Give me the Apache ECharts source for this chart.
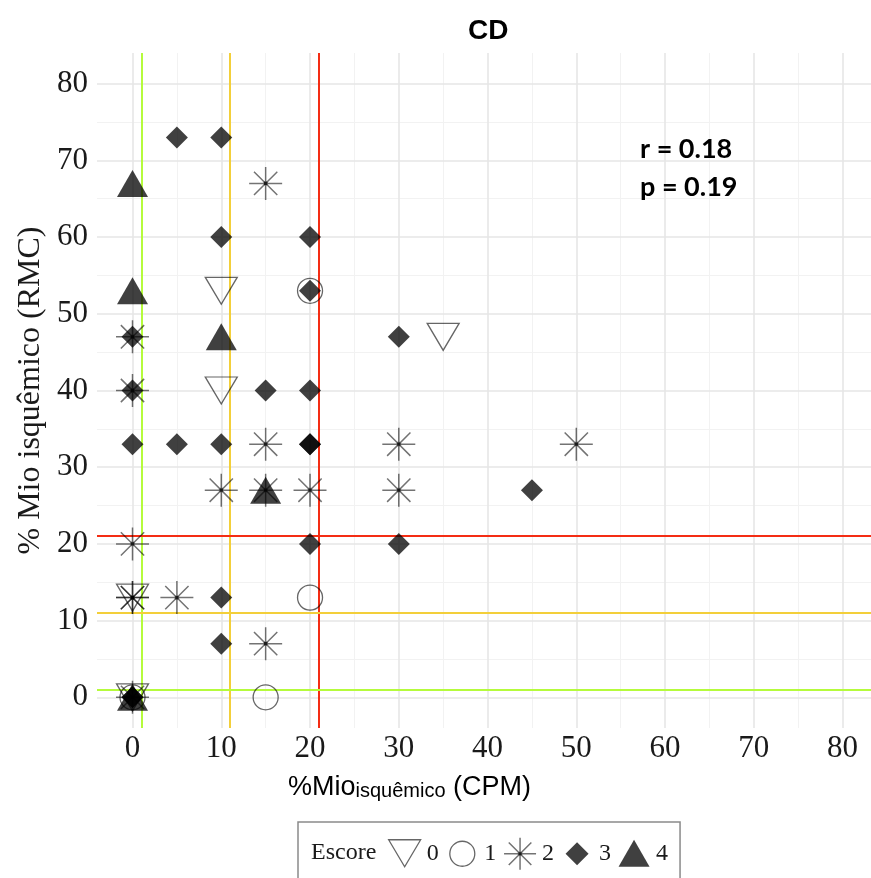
<!DOCTYPE html>
<html><head><meta charset="utf-8">
<script src="https://cdn.jsdelivr.net/npm/echarts@6/dist/echarts.min.js"></script>
<style>html,body{margin:0;padding:0;background:#fff}#c{width:871px;height:878px}</style>
</head><body><div id="c"></div>
<script>
// ---- data ----
const majorTicks = [0, 10, 20, 30, 40, 50, 60, 70, 80];
const minorTicks = [5, 15, 25, 35, 45, 55, 65, 75];
const scoreNames = ['0', '1', '2', '3', '4'];
const score0X = [10, 10, 35, 0, 0];
const score0Y = [53, 40, 47, 13, 0];
const score1X = [20, 20, 15, 0];
const score1Y = [53, 13, 0, 0];
const score2X = [15, 0, 0, 15, 30, 50, 10, 15, 20, 30, 0, 0, 0, 5, 15, 0];
const score2Y = [67, 47, 40, 33, 33, 33, 27, 27, 27, 27, 20, 13, 13, 13, 7, 0];
const score3X = [5, 10, 10, 20, 20, 0, 30, 0, 15, 20, 0, 5, 10, 20, 20, 45, 20, 30, 10, 10, 0, 0];
const score3Y = [73, 73, 60, 60, 53, 47, 47, 40, 40, 40, 33, 33, 33, 33, 33, 27, 20, 20, 13, 7, 0, 0];
const score4X = [0, 0, 10, 15, 0];
const score4Y = [67, 53, 47, 27, 0];
const cutoffs = [1, 11, 21];
const cutoffColors = ['#b5fb3c', '#f3cf3a', '#f42d14'];
const statLines = ['r = 0.18', 'p = 0.19'];

// ---- symbols ----
const DOWN_TRI = 'path://M0 0 L32 0 L16 27 Z';
const ASTER = 'path://M0 -16 L0 16 M-16 0 L16 0 M-11.3 -11.3 L11.3 11.3 M-11.3 11.3 L11.3 -11.3 M-1.6 -1.6 L1.6 -1.6 L1.6 1.6 L-1.6 1.6 Z';
const PAD = 'M-17 -17 M17 17 ';
const L_DOWN = 'path://' + PAD + 'M-16 -14 L16 -14 L0 13 Z';
const L_CIRC = 'path://' + PAD + 'M12.5 0 A12.5 12.5 0 1 1 -12.5 0 A12.5 12.5 0 1 1 12.5 0 Z';
const L_AST = 'path://' + PAD + 'M0 -16 L0 16 M-16 0 L16 0 M-11.3 -11.3 L11.3 11.3 M-11.3 11.3 L11.3 -11.3 M-1.6 -1.6 L1.6 -1.6 L1.6 1.6 L-1.6 1.6 Z';
const L_DIAM = 'path://' + PAD + 'M0 -11.5 L11.5 0 L0 11.5 L-11.5 0 Z';
const L_TRI = 'path://' + PAD + 'M0 -14 L15.5 13 L-15.5 13 Z';

const FILL = 'rgba(0,0,0,0.75)';
const ASTER_STROKE = 'rgba(0,0,0,0.55)';
const pairs = (xs, ys) => xs.map((x, i) => [x, ys[i]]);

const gridLine = (axis, v, major) => ({
  [axis]: v,
  lineStyle: { color: major ? '#e6e6e6' : '#f2f2f2', width: major ? 1.6 : 1.1, type: 'solid' }
});

const chart = echarts.init(document.getElementById('c'), null, { renderer: 'canvas' });
const serifFont = '"Liberation Serif","Times New Roman",serif';
const sansFont = '"Liberation Sans",Arial,sans-serif';

chart.setOption({
  animation: false,
  backgroundColor: '#fff',
  title: {
    text: 'CD', left: 463, top: 12,
    textStyle: { fontFamily: sansFont, fontWeight: 'bold', fontSize: 28, color: '#000' }
  },
  grid: { left: 97, right: 0, top: 53, bottom: 150, containLabel: false },
  xAxis: {
    type: 'value', min: -4, max: 83.2,
    axisLine: { show: false }, axisTick: { show: false }, splitLine: { show: false },
    axisLabel: { customValues: majorTicks, margin: 5, fontFamily: serifFont, fontSize: 31, color: '#1a1a1a' }
  },
  yAxis: {
    type: 'value', min: -4, max: 84,
    axisLine: { show: false }, axisTick: { show: false }, splitLine: { show: false },
    axisLabel: { customValues: majorTicks, margin: 9, fontFamily: serifFont, fontSize: 31, color: '#1a1a1a' },
    name: '% Mio isquêmico (RMC)', nameLocation: 'middle', nameGap: 48,
    nameTextStyle: { fontFamily: serifFont, fontSize: 32, color: '#1a1a1a' }
  },
  legend: {
    left: 298, top: 822, orient: 'horizontal',
    padding: [14, 12, 30, 89],
    itemWidth: 34, itemHeight: 34, itemGap: 6,
    borderColor: '#8a8a8a', borderWidth: 1.5,
    textStyle: { fontFamily: serifFont, fontSize: 24, color: '#1a1a1a' },
    selectedMode: false,
    data: [
      { name: '0', icon: L_DOWN, itemStyle: { color: 'transparent', borderColor: 'rgba(0,0,0,0.75)', borderWidth: 1.3 } },
      { name: '1', icon: L_CIRC, itemStyle: { color: 'transparent', borderColor: 'rgba(0,0,0,0.75)', borderWidth: 1.3 } },
      { name: '2', icon: L_AST, itemStyle: { color: FILL, borderColor: ASTER_STROKE, borderWidth: 1.5 } },
      { name: '3', icon: L_DIAM, itemStyle: { color: FILL, borderColor: FILL, borderWidth: 0 } },
      { name: '4', icon: L_TRI, itemStyle: { color: FILL, borderColor: FILL, borderWidth: 0 } }
    ]
  },
  graphic: [
    { type: 'text', left: 311, top: 841, style: { text: 'Escore', font: '24px ' + serifFont, fill: '#1a1a1a' } },
    { type: 'text', left: 288, top: 774, style: {
        text: '{a|%Mio}{b|isquêmico}{a| (CPM)}',
        rich: {
          a: { fontFamily: sansFont, fontSize: 27, color: '#1a1a1a', verticalAlign: 'bottom', lineHeight: 32 },
          b: { fontFamily: sansFont, fontSize: 20, color: '#1a1a1a', verticalAlign: 'bottom', lineHeight: 26 }
        } } },
    { type: 'text', left: 640, top: 130, z: 10, style: { text: statLines.join('\n'), font: 'bold 27px Lato, "Open Sans", sans-serif', lineHeight: 38, fill: '#000' } }
  ],
  series: [
    {
      name: 'grid', type: 'scatter', data: [], z: 0, silent: true,
      markLine: {
        z: 0, silent: true, symbol: 'none', label: { show: false }, animation: false,
        emphasis: { disabled: true },
        data: [
          ...minorTicks.map(v => gridLine('xAxis', v, false)),
          ...minorTicks.map(v => gridLine('yAxis', v, false)),
          ...majorTicks.map(v => gridLine('xAxis', v, true)),
          ...majorTicks.map(v => gridLine('yAxis', v, true))
        ]
      }
    },
    {
      name: 'cutoffs', type: 'scatter', data: [], z: 1, silent: true,
      markLine: {
        z: 1, silent: true, symbol: 'none', label: { show: false }, animation: false,
        emphasis: { disabled: true },
        data: [
          ...cutoffs.map((v, i) => ({ xAxis: v, lineStyle: { color: cutoffColors[i], width: 2, type: 'solid' } })),
          ...cutoffs.map((v, i) => ({ yAxis: v, lineStyle: { color: cutoffColors[i], width: 2, type: 'solid' } }))
        ]
      }
    },
    { name: scoreNames[0], type: 'scatter', z: 3, data: pairs(score0X, score0Y), symbol: DOWN_TRI, symbolSize: [32, 27],
      itemStyle: { color: 'transparent', borderColor: 'rgba(0,0,0,0.75)', borderWidth: 1.3 } },
    { name: scoreNames[1], type: 'scatter', z: 3, data: pairs(score1X, score1Y), symbol: 'circle', symbolSize: 25,
      itemStyle: { color: 'transparent', borderColor: 'rgba(0,0,0,0.75)', borderWidth: 1.3 } },
    { name: scoreNames[2], type: 'scatter', z: 3, data: pairs(score2X, score2Y), symbol: ASTER, symbolSize: 33,
      itemStyle: { color: FILL, borderColor: ASTER_STROKE, borderWidth: 1.5, opacity: 1 } },
    { name: scoreNames[3], type: 'scatter', z: 3, data: pairs(score3X, score3Y), symbol: 'diamond', symbolSize: 22,
      itemStyle: { color: FILL, borderWidth: 0, opacity: 1 } },
    { name: scoreNames[4], type: 'scatter', z: 3, data: pairs(score4X, score4Y), symbol: 'triangle', symbolSize: [31, 27],
      itemStyle: { color: FILL, borderWidth: 0, opacity: 1 } }
  ]
});
</script></body></html>
